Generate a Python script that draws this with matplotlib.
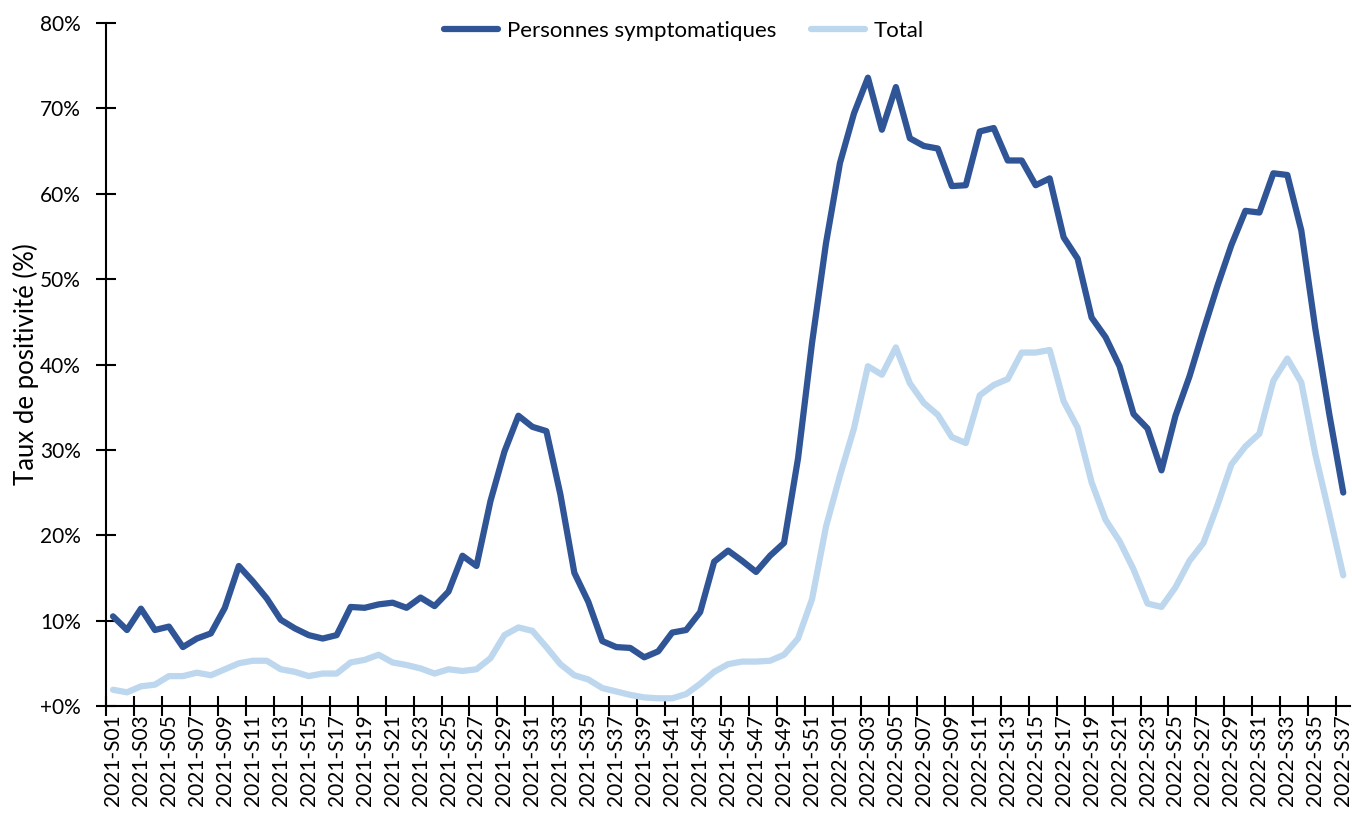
import numpy as np
import matplotlib
matplotlib.use("Agg")
import matplotlib.pyplot as plt
from matplotlib.ticker import FuncFormatter

plt.rcParams['font.family'] = ['Lato', 'DejaVu Sans']

# weeks 2021-S01 .. 2021-S52 then 2022-S01 .. 2022-S37
semaines = ["2021-S%02d" % w for w in range(1, 53)] + ["2022-S%02d" % w for w in range(1, 38)]

# positivity rate, symptomatic persons (%)
symptomatiques = [
    10.5, 8.9, 11.4, 8.9, 9.3, 6.9, 7.9, 8.5, 11.5, 16.4,
    14.6, 12.6, 10.1, 9.1, 8.3, 7.9, 8.3, 11.6, 11.5, 11.9,
    12.1, 11.5, 12.7, 11.7, 13.4, 17.6, 16.4, 24.0, 29.8, 34.0,
    32.7, 32.2, 24.8, 15.6, 12.2, 7.6, 6.9, 6.8, 5.7, 6.4,
    8.6, 8.9, 11.0, 16.9, 18.2, 17.0, 15.7, 17.6, 19.1, 29.0,
    42.5, 54.2, 63.6, 69.4, 73.6, 67.5, 72.5, 66.5, 65.6, 65.3,
    60.9, 61.0, 67.3, 67.7, 63.9, 63.9, 61.0, 61.8, 54.9, 52.4,
    45.5, 43.2, 39.8, 34.2, 32.5, 27.6, 34.0, 38.6, 44.0, 49.2,
    54.0, 58.0, 57.8, 62.4, 62.2, 55.7, 44.2, 34.2, 25.0,
]

# positivity rate, all tests (%)
total = [
    1.9, 1.6, 2.3, 2.5, 3.5, 3.5, 3.9, 3.6, 4.3, 5.0,
    5.3, 5.3, 4.3, 4.0, 3.5, 3.8, 3.8, 5.1, 5.4, 6.0,
    5.1, 4.8, 4.4, 3.8, 4.3, 4.1, 4.3, 5.6, 8.3, 9.2,
    8.8, 6.9, 4.9, 3.6, 3.1, 2.1, 1.7, 1.3, 1.0, 0.9,
    0.9, 1.4, 2.6, 4.0, 4.9, 5.2, 5.2, 5.3, 6.0, 7.9,
    12.5, 21.0, 27.0, 32.5, 39.8, 38.8, 42.0, 37.8, 35.5, 34.1,
    31.5, 30.8, 36.4, 37.6, 38.3, 41.4, 41.4, 41.7, 35.7, 32.6,
    26.2, 21.8, 19.3, 16.0, 12.0, 11.6, 13.9, 17.0, 19.1, 23.5,
    28.3, 30.4, 31.9, 38.1, 40.7, 37.9, 29.5, 22.5, 15.3,
]

dark = '#2F5597'
light = '#BDD7EE'

fig = plt.figure(figsize=(13.52, 8.14), dpi=100)
ax = fig.add_axes([0.0784, 0.1327, 0.9203, 0.839])

x = np.arange(len(semaines))
ax.plot(x, symptomatiques, color=dark, lw=4.5, label='Personnes symptomatiques',
        solid_joinstyle='round', solid_capstyle='round')
ax.plot(x, total, color=light, lw=4.5, label='Total',
        solid_joinstyle='round', solid_capstyle='round')

ax.set_xlim(-0.5, len(semaines) - 0.5)
ax.set_ylim(0, 80)

# Excel style: ticks between categories, label every other week
ax.set_xticks(np.arange(-0.5, len(semaines), 2))
ax.set_xticklabels([])
ax.set_xticks(x[::2], minor=True)
ax.set_xticklabels(semaines[::2], minor=True, rotation=90, fontsize=15)
ax.tick_params(axis='x', which='minor', length=0, pad=6)
ax.tick_params(axis='x', which='major', direction='inout', length=14, width=1.5)

ax.set_yticks(np.arange(0, 81, 10))
ax.yaxis.set_major_formatter(FuncFormatter(lambda v, p: '+0%' if v == 0 else '%d%%' % v))
ax.tick_params(axis='y', direction='inout', length=14, width=1.5, labelsize=15, pad=11)
ax.set_ylabel('Taux de positivité (%)', fontsize=18.5, labelpad=1)

for s in ['top', 'right']:
    ax.spines[s].set_visible(False)
for s in ['left', 'bottom']:
    ax.spines[s].set_linewidth(1.5)

leg = ax.legend(loc='center', bbox_to_anchor=(0.4646, 0.988), ncol=2, frameon=False,
                fontsize=16, handlelength=2.4, handletextpad=0.4, columnspacing=1.6)
for h in leg.get_lines():
    h.set_solid_capstyle('round')

fig.savefig('out.png', dpi=100)
